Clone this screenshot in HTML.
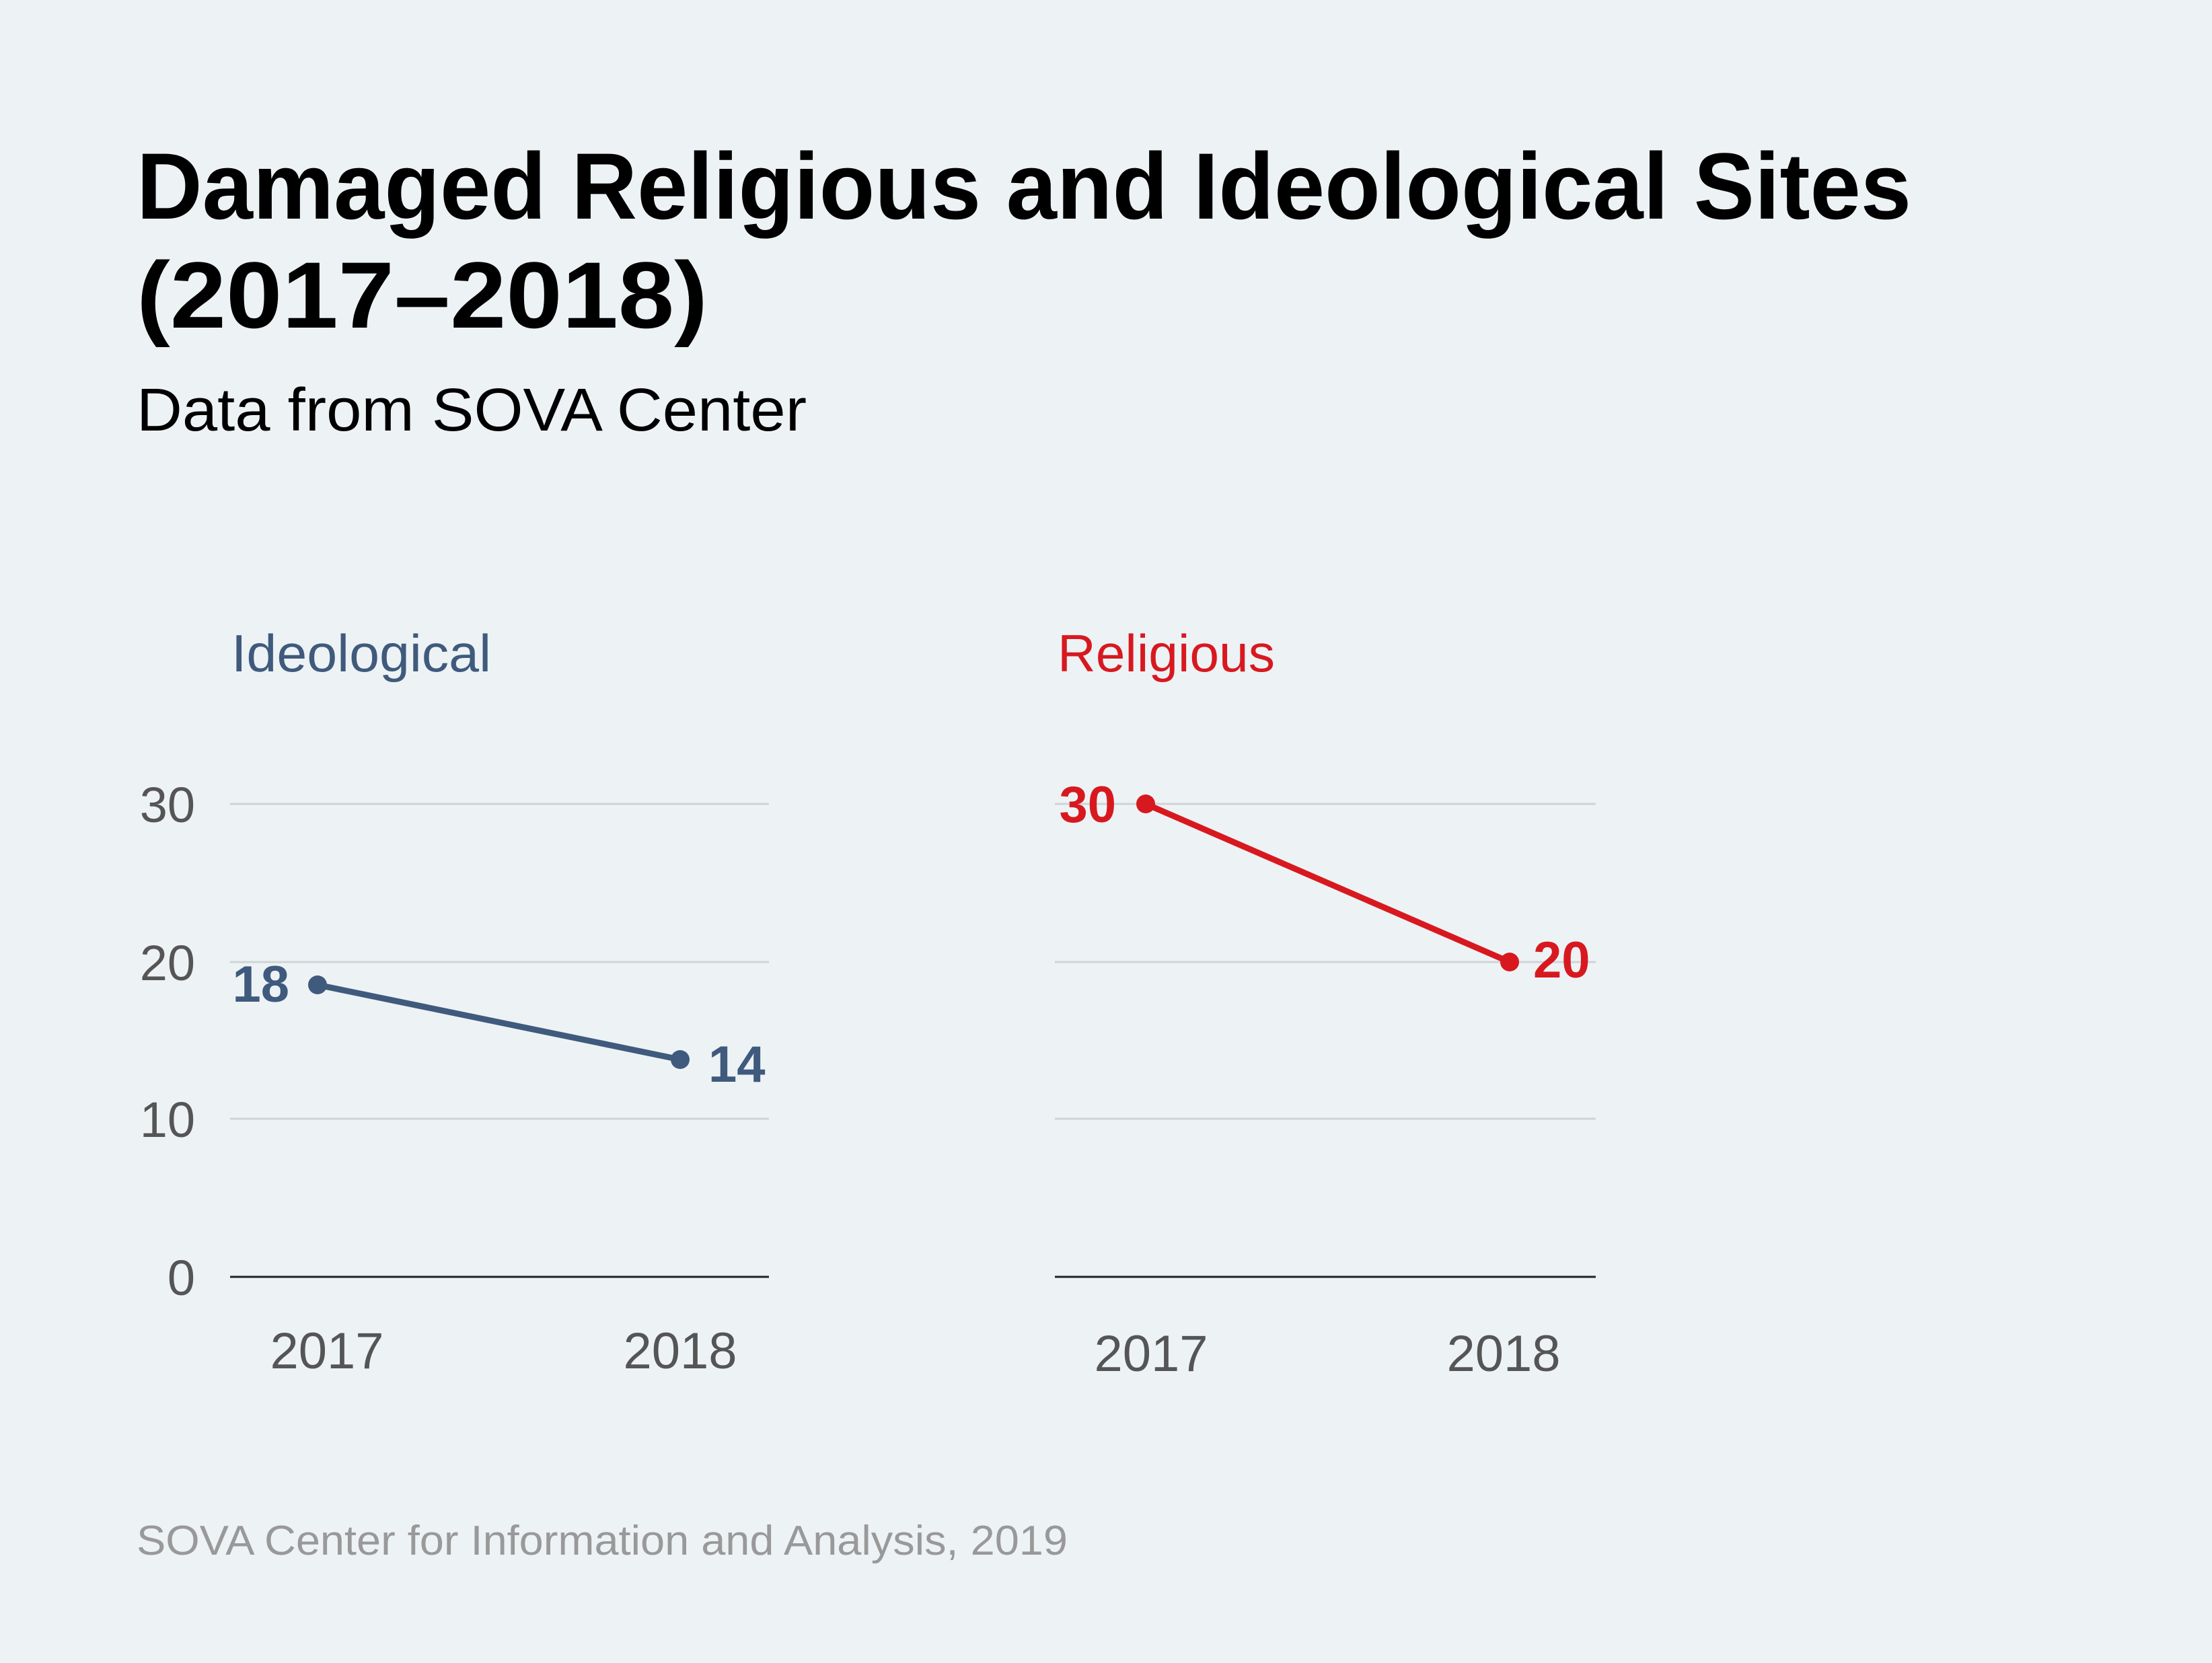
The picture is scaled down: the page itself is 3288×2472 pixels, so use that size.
<!DOCTYPE html>
<html><head><meta charset="utf-8"><style>
html,body{margin:0;padding:0;background:#edf2f5;}
svg{display:block;}
text{font-family:"Liberation Sans",sans-serif;}
</style></head><body>
<svg width="3288" height="2472" viewBox="0 0 3288 2472" xmlns="http://www.w3.org/2000/svg">
<rect width="3288" height="2472" fill="#edf2f5"/>
<text x="203" y="325" font-size="140" font-weight="bold" fill="#000" textLength="2638" lengthAdjust="spacingAndGlyphs">Damaged Religious and Ideological Sites</text>
<text x="203" y="487" font-size="140" font-weight="bold" fill="#000" textLength="849" lengthAdjust="spacingAndGlyphs">(2017–2018)</text>
<text x="203" y="640" font-size="90" fill="#000" textLength="996" lengthAdjust="spacingAndGlyphs">Data from SOVA Center</text>

<text x="344" y="998" font-size="78" fill="#3f5a7c" textLength="386" lengthAdjust="spacingAndGlyphs">Ideological</text>
<text x="1572" y="998" font-size="78" fill="#d7191f" textLength="323" lengthAdjust="spacingAndGlyphs">Religious</text>

<g stroke="#d0d4d8" stroke-width="3">
<line x1="342" y1="1195" x2="1143" y2="1195"/>
<line x1="342" y1="1430" x2="1143" y2="1430"/>
<line x1="342" y1="1663" x2="1143" y2="1663"/>
<line x1="1568" y1="1195" x2="2372" y2="1195"/>
<line x1="1568" y1="1430" x2="2372" y2="1430"/>
<line x1="1568" y1="1663" x2="2372" y2="1663"/>
</g>
<g stroke="#222" stroke-width="3">
<line x1="342" y1="1898" x2="1143" y2="1898"/>
<line x1="1568" y1="1898" x2="2372" y2="1898"/>
</g>
<g font-size="74" fill="#555" text-anchor="end">
<text x="290" y="1222">30</text>
<text x="290" y="1457">20</text>
<text x="290" y="1690">10</text>
<text x="290" y="1925">0</text>
</g>
<g font-size="76" fill="#555" text-anchor="middle">
<text x="486" y="2034">2017</text>
<text x="1011" y="2034">2018</text>
<text x="1711" y="2038">2017</text>
<text x="2235" y="2038">2018</text>
</g>
<line x1="472" y1="1464" x2="1011" y2="1575" stroke="#3f5a7c" stroke-width="9"/>
<circle cx="472" cy="1464" r="14" fill="#3f5a7c"/>
<circle cx="1011" cy="1575" r="14" fill="#3f5a7c"/>
<line x1="1703" y1="1195" x2="2244" y2="1430" stroke="#d7191f" stroke-width="9"/>
<circle cx="1703" cy="1195" r="14" fill="#d7191f"/>
<circle cx="2244" cy="1430" r="14" fill="#d7191f"/>
<g font-size="76" font-weight="bold">
<text x="430" y="1489" text-anchor="end" fill="#3f5a7c">18</text>
<text x="1053" y="1608" fill="#3f5a7c">14</text>
<text x="1659" y="1222" text-anchor="end" fill="#d7191f">30</text>
<text x="2279" y="1453" fill="#d7191f">20</text>
</g>
<text x="203" y="2311" font-size="62" fill="#999" textLength="1384" lengthAdjust="spacingAndGlyphs">SOVA Center for Information and Analysis, 2019</text>
</svg>
</body></html>
